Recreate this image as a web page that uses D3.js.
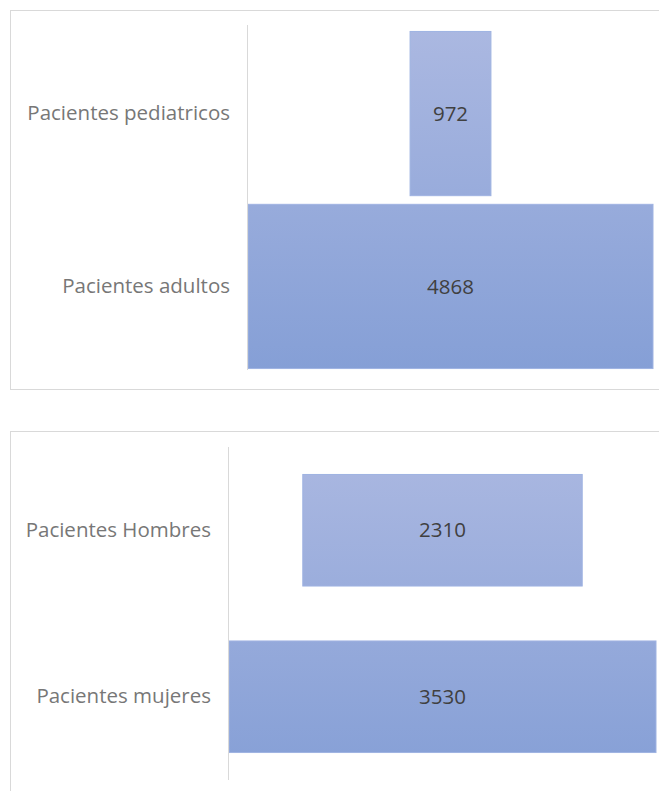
<!DOCTYPE html>
<html>
<head>
<meta charset="utf-8">
<script src="https://cdn.jsdelivr.net/npm/d3@7"></script>
<style>
  body { margin: 0; background: #fff; }
  svg { display: block; }
</style>
</head>
<body>
<svg id="chart" width="659" height="791"></svg>
<script>
/// Data ///
// chart 1 - edad
const ageCats = ["Pacientes pediatricos", "Pacientes adultos"];
const ageValues = [972, 4868];
// chart 2 - sexo
const sexCats = ["Pacientes Hombres", "Pacientes mujeres"];
const sexValues = [2310, 3530];

const svg = d3.select("#chart");
const defs = svg.append("defs");

/// Funnel drawing ///
function drawFunnel(id, cats, values, box, plot, pad) {
    // chart frame (runs off the right side like in the screenshot)
    svg.append("rect")
        .attr("x", box.x + 0.5)
        .attr("y", box.y + 0.5)
        .attr("width", box.w)
        .attr("height", box.h)
        .attr("fill", "none")
        .attr("stroke", "#d9d9d9");

    // gradient spans the whole plot
    const grad = defs.append("linearGradient")
        .attr("id", id)
        .attr("gradientUnits", "userSpaceOnUse")
        .attr("x1", 0).attr("x2", 0)
        .attr("y1", plot.top).attr("y2", plot.bottom);
    grad.append("stop").attr("offset", "0%").attr("stop-color", "#abb8e1");
    grad.append("stop").attr("offset", "100%").attr("stop-color", "#859fd6");

    const y = d3.scaleBand()
        .domain(cats)
        .range([plot.top, plot.bottom])
        .paddingInner(pad.inner)
        .paddingOuter(pad.outer);

    const x = d3.scaleLinear()
        .domain([0, d3.max(values)])
        .range([0, plot.right - plot.left]);

    const center = (plot.left + plot.right) / 2;

    const g = svg.append("g");

    g.selectAll("rect.bar")
        .data(values)
        .enter().append("rect")
            .attr("class", "bar")
            .attr("x", d => center - x(d) / 2)
            .attr("y", (d, i) => y(cats[i]))
            .attr("width", d => x(d))
            .attr("height", y.bandwidth())
            .attr("fill", "url(#" + id + ")")
            .attr("stroke", "#9fb3e2")
            .attr("stroke-width", 1);

    g.selectAll("text.val")
        .data(values)
        .enter().append("text")
            .attr("class", "val")
            .attr("x", center)
            .attr("y", (d, i) => y(cats[i]) + y.bandwidth() / 2)
            .attr("dy", "0.35em")
            .attr("text-anchor", "middle")
            .style("font-family", "'Open Sans', sans-serif")
            .style("font-size", "20.5px")
            .style("fill", "#404040")
            .text(d => d);

    // category axis
    const axis = svg.append("g")
        .attr("transform", "translate(" + plot.axisX + ",0)")
        .call(d3.axisLeft(y).tickSize(0).tickPadding(17));
    axis.select(".domain").remove();
    axis.selectAll("text")
        .style("font-family", "'Open Sans', sans-serif")
        .style("font-size", "20.5px")
        .style("fill", "#777777");

    svg.append("line")
        .attr("x1", plot.axisX + 0.5).attr("x2", plot.axisX + 0.5)
        .attr("y1", plot.lineTop).attr("y2", plot.lineBottom)
        .attr("stroke", "#d9d9d9");
}

drawFunnel("grad1", ageCats, ageValues,
    {x: 10, y: 10, w: 700, h: 379},
    {top: 28, bottom: 372, left: 248, right: 653, axisX: 247, lineTop: 25, lineBottom: 370},
    {inner: 0.05, outer: 0.02});

drawFunnel("grad2", sexCats, sexValues,
    {x: 10, y: 431, w: 700, h: 420},
    {top: 447, bottom: 780, left: 229, right: 656, axisX: 228, lineTop: 447, lineBottom: 780},
    {inner: 0.33, outer: 0.165});
</script>
</body>
</html>
